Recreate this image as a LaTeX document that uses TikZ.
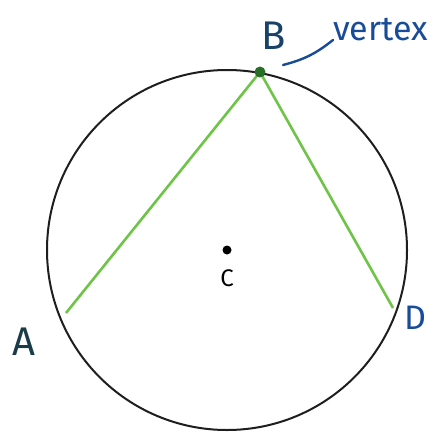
\documentclass[tikz,border=0pt]{standalone}
\usepackage{fontspec}
\setmainfont{Fira Sans}
\usetikzlibrary{positioning}
\definecolor{ChordGreen}{RGB}{110,196,70}
\definecolor{DotGreen}{RGB}{40,110,40}
\definecolor{InkBlue}{RGB}{24,76,152}
\definecolor{InkTeal}{RGB}{26,60,72}
\definecolor{Pencil}{RGB}{30,30,30}

\begin{document}
\begin{tikzpicture}[x=1pt, y=-1pt, every node/.style={inner sep=0pt}, lbl/.style={font=\fontsize{#1}{#1}\selectfont}, chord/.style={draw=ChordGreen,line width=2.6pt}]
\useasboundingbox (0,0) rectangle (433,431);
% the circle and its centre
\coordinate (O) at (227,250);
\draw[Pencil,line width=2pt] (O) circle (180pt);
\fill[black] (O) circle (4.5pt);
\node[lbl=24] (labC) at (227,278) {C};
% points on the circle
\coordinate (A) at (66,313);
\coordinate (B) at (260,72);
\coordinate (D) at (393,308);
\draw[chord] (A) -- (B) -- (D);
\fill[DotGreen] (B) circle (5.5pt);
\node[lbl=40,text=InkTeal] (labA) at (24,342) {A};
\node[lbl=40,text=InkTeal!60!InkBlue] (labB) at (274,36) {B};
\node[lbl=34,text=InkBlue] (labD) at (415,318) {D};
% vertex note
\node[lbl=34,text=InkBlue,anchor=base west] (vtx) at (333,40) {vertex};
\coordinate (tip) at (283,65);
\draw[InkBlue,line width=2.4pt,line cap=round] (tip) to[bend right=12] (vtx.base west);
\end{tikzpicture}
\end{document}
